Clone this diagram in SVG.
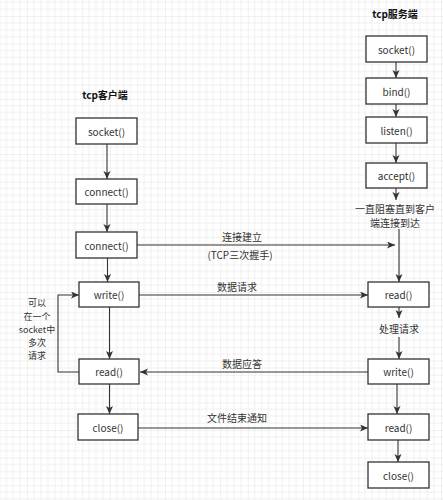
<svg xmlns="http://www.w3.org/2000/svg" width="443" height="500" viewBox="0 0 443 500">
<style>
.box{fill:#fff;stroke:#333;stroke-width:1.3}
.t{font-family:"Noto Sans CJK SC","Noto Sans",sans-serif;font-size:10px;fill:#333;text-anchor:middle;dominant-baseline:central}
.title{font-weight:bold;fill:#111}
.side{font-size:9px}
.ln{fill:none;stroke:#333;stroke-width:1.1}
.arr{marker-end:url(#ah)}
</style>
<defs>
<pattern id="grid" width="27.6" height="27.6" patternUnits="userSpaceOnUse" x="27" y="16">
<path d="M6.9 0V27.6M13.8 0V27.6M20.7 0V27.6M0 6.9H27.6M0 13.8H27.6M0 20.7H27.6" stroke="#efefef" stroke-width="1" fill="none"/>
<path d="M0 0V27.6M0 0H27.6" stroke="#e3e3e3" stroke-width="1" fill="none"/>
</pattern>
<marker id="ah" markerUnits="userSpaceOnUse" markerWidth="9" markerHeight="8" refX="8" refY="3.5" orient="auto">
<path d="M0,0 L8,3.5 L0,7 L2,3.5 z" fill="#333"/>
</marker>
</defs>
<rect width="443" height="500" fill="#fff"/>
<rect width="443" height="500" fill="url(#grid)"/>

<g id="connectors">
<path class="ln arr" d="M107 144V179"/>
<path class="ln arr" d="M107 204V232"/>
<path class="ln arr" d="M107.5 258V282"/>
<path class="ln arr" d="M109.5 307V359"/>
<path class="ln arr" d="M109.5 384V414"/>
<path class="ln arr" d="M79 372H58V295H79"/>
<path class="ln arr" d="M396 62V78"/>
<path class="ln arr" d="M396 104V117"/>
<path class="ln arr" d="M396 143V163"/>
<path class="ln arr" d="M396 188V200"/>
<path class="ln arr" d="M399 229V282"/>
<path class="ln arr" d="M399 307V318"/>
<path class="ln arr" d="M399 337V359"/>
<path class="ln arr" d="M397 384V414"/>
<path class="ln arr" d="M398 440V462"/>
<path class="ln arr" d="M137 245H395"/>
<path class="ln arr" d="M139 295H368"/>
<path class="ln arr" d="M368 372H140"/>
<path class="ln arr" d="M138 428H368"/>
</g>

<g id="labels">
<text class="t" x="242" y="236">连接建立</text>
<text class="t" x="240" y="254">(TCP三次握手)</text>
<text class="t" x="237" y="286">数据请求</text>
<text class="t" x="242" y="363">数据应答</text>
<text class="t" x="237" y="417">文件结束通知</text>
<text class="t" x="395" y="208">一直阻塞直到客户<tspan x="395" dy="13.5">端连接到达</tspan></text>
<text class="t" x="399" y="328">处理请求</text>
<text class="t side" x="37" y="302.5">可以<tspan x="37" dy="13.1">在一个</tspan><tspan x="37" dy="13.1">socket中</tspan><tspan x="37" dy="13.1">多次</tspan><tspan x="37" dy="13.1">请求</tspan></text>
</g>

<g id="client-title"><text class="t title" x="105" y="94">tcp客户端</text></g>
<g id="server-title"><text class="t title" x="395" y="13">tcp服务端</text></g>

<g id="c-socket"><rect class="box" x="76" y="118" width="61" height="26"/><text class="t" x="106.5" y="131">socket()</text></g>
<g id="c-connect1"><rect class="box" x="76" y="179" width="61" height="25"/><text class="t" x="106.5" y="191.5">connect()</text></g>
<g id="c-connect2"><rect class="box" x="76" y="232" width="61" height="26"/><text class="t" x="106.5" y="245">connect()</text></g>
<g id="c-write"><rect class="box" x="79" y="282" width="60" height="25"/><text class="t" x="109" y="294.5">write()</text></g>
<g id="c-read"><rect class="box" x="79" y="359" width="60" height="25"/><text class="t" x="109" y="371.5">read()</text></g>
<g id="c-close"><rect class="box" x="78" y="414" width="60" height="26"/><text class="t" x="108" y="427">close()</text></g>

<g id="s-socket"><rect class="box" x="366" y="36" width="61" height="26"/><text class="t" x="396.5" y="49">socket()</text></g>
<g id="s-bind"><rect class="box" x="366" y="78" width="61" height="26"/><text class="t" x="396.5" y="91">bind()</text></g>
<g id="s-listen"><rect class="box" x="366" y="117" width="61" height="26"/><text class="t" x="396.5" y="130">listen()</text></g>
<g id="s-accept"><rect class="box" x="366" y="163" width="61" height="25"/><text class="t" x="396.5" y="175.5">accept()</text></g>
<g id="s-read1"><rect class="box" x="368" y="282" width="61" height="25"/><text class="t" x="398.5" y="294.5">read()</text></g>
<g id="s-write"><rect class="box" x="368" y="359" width="61" height="25"/><text class="t" x="398.5" y="371.5">write()</text></g>
<g id="s-read2"><rect class="box" x="368" y="414" width="61" height="26"/><text class="t" x="398.5" y="427">read()</text></g>
<g id="s-close"><rect class="box" x="368" y="462" width="61" height="26"/><text class="t" x="398.5" y="475">close()</text></g>
</svg>
